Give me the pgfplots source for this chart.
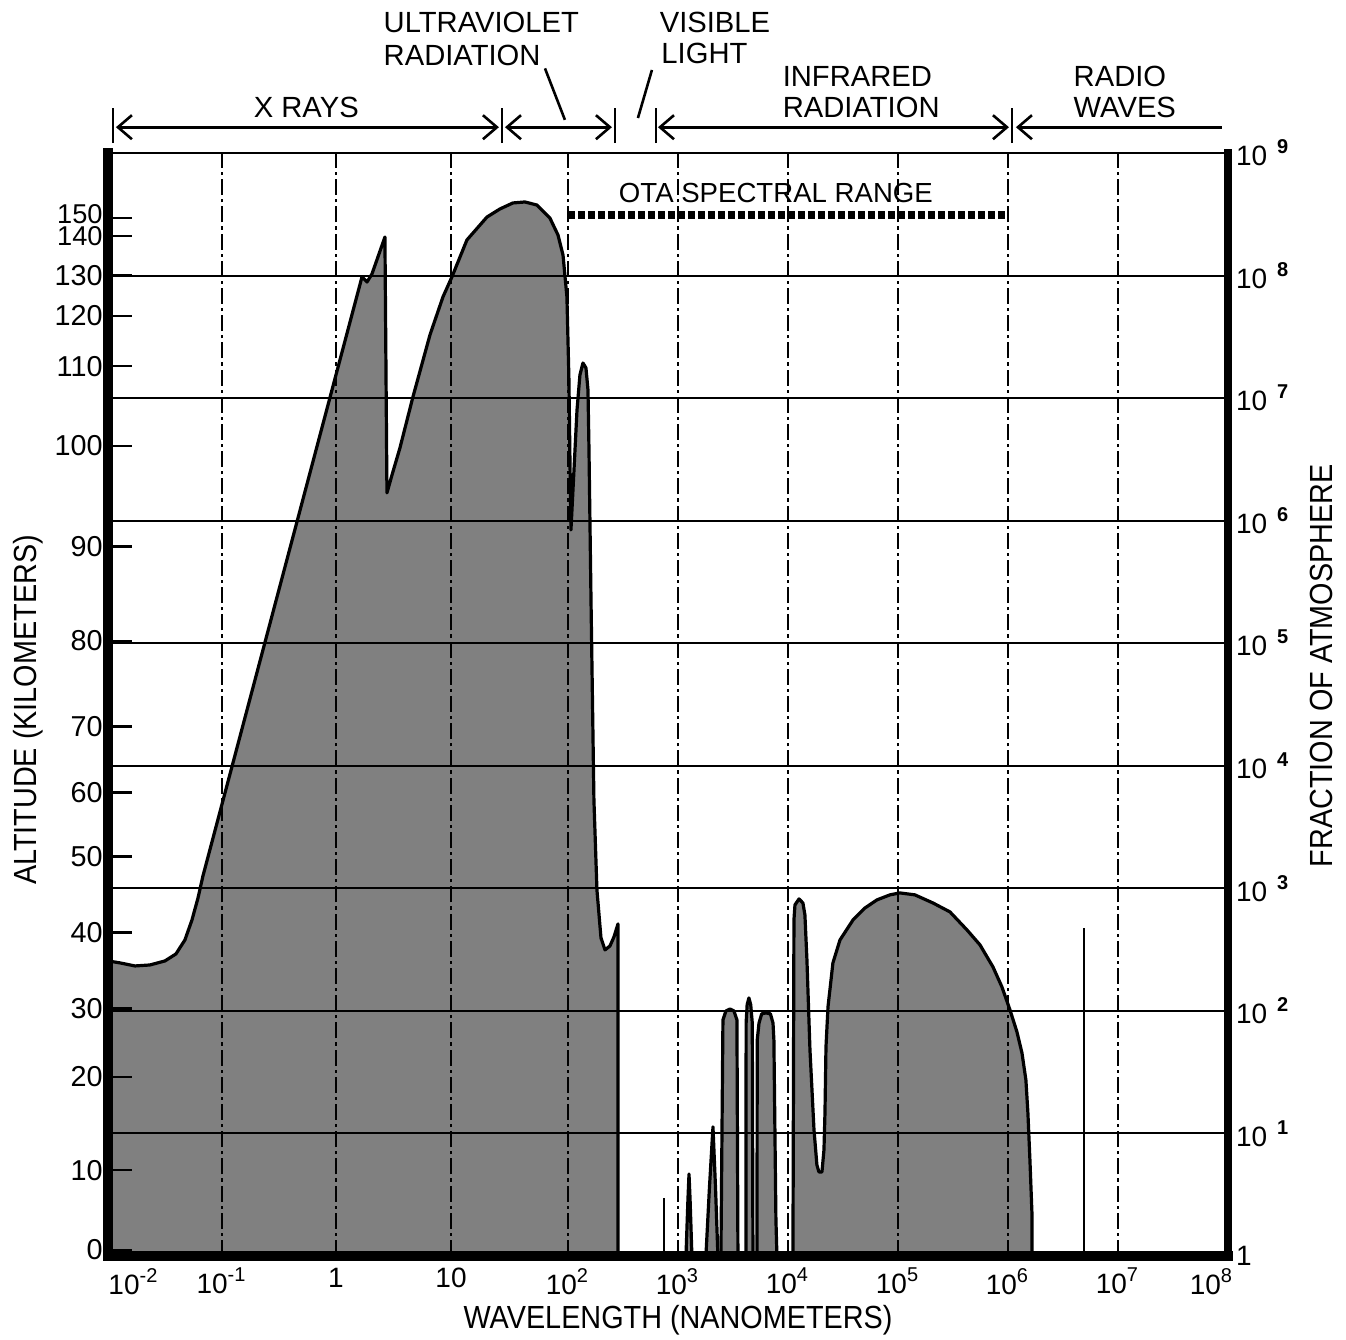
\documentclass[border=0pt]{standalone}
\usepackage{fontspec}
\setmainfont{Liberation Sans}
\newfontfamily\narrowfont{Liberation Sans}[FakeStretch=0.9]
\usepackage{pgfplots}
\pgfplotsset{compat=1.18}
\usetikzlibrary{arrows.meta}
\tikzset{toplab/.style={anchor=base west, inner sep=0pt, font=\fontsize{7.3}{8}\selectfont}}
\begin{document}
\begin{tikzpicture}[font=\fontsize{7.5}{9}\selectfont]
\pgfplotsset{
  base/.style={
    scale only axis, width=280pt, height=275.75pt,
    xmin=-2, xmax=8, ymin=0, ymax=9,
    axis line style={draw=none},
    clip=false,
  },
  shade/.style={fill=black!50, draw=black, line width=0.8pt, line join=round},
}
\begin{axis}[base, axis on top,
  xtick={-2,-0.982,0.036,1.063,2.107,3.089,4.071,5.054,6.036,7.018,8},
  xticklabels={{\hspace*{13pt}10\textsuperscript{-2}},{10\textsuperscript{-1}},{1},{10},{10\textsuperscript{2}},{10\textsuperscript{3}},{10\textsuperscript{4}},{10\textsuperscript{5}},{10\textsuperscript{6}},{10\textsuperscript{7}},{10\textsuperscript{8}\hspace*{8pt}}},
  xtick pos=bottom,
  x tick style={draw=none},
  xmajorgrids,
  x grid style={black, line width=0.45pt, dash pattern=on 4pt off 1pt on 0.8pt off 1pt},
  ytick={0.05,0.70,1.46,2.02,2.64,3.26,3.78,4.32,5.02,5.79,6.61,7.26,7.67,8.00,8.32,8.47},
  yticklabels={0,10,20,30,40,50,60,70,80,90,100,110,120,130,{\raisebox{-1.6pt}{\fontsize{6.8}{8}\selectfont 140}},{\raisebox{1.9pt}{\fontsize{6.8}{8}\selectfont 150}}},
  ytick pos=left,
  tick align=inside,
  major tick length=6pt,
  y tick style={black, line width=0.6pt},
  xticklabel style={font=\fontsize{7}{8}\selectfont, yshift=0.5pt},
  yticklabel style={font=\fontsize{7.2}{9}\selectfont, xshift=2.2pt, inner ysep=0pt},
  xlabel={WAVELENGTH (NANOMETERS)},
  ylabel={ALTITUDE (KILOMETERS)},
  xlabel style={font=\narrowfont\fontsize{8}{9}\selectfont, at={(rel axis cs:0.509,-0.058)}, anchor=center},
  ylabel style={font=\narrowfont\fontsize{8}{9}\selectfont, at={(rel axis cs:-0.0714,0.495)}, anchor=center},
]
% main absorption region (X rays / UV)
\addplot[shade] coordinates {
(-2,0) (-2,2.407) (-1.893,2.391) (-1.759,2.366) (-1.625,2.374) (-1.491,2.407) (-1.393,2.464) (-1.313,2.578) (-1.250,2.741) (-1.196,2.921) (-1.152,3.100) (0.268,7.988) (0.313,7.947) (0.357,8.012) (0.473,8.314) (0.491,6.226) (0.536,6.372) (0.607,6.593) (0.723,7.009) (0.875,7.515) (0.991,7.825) (1.071,7.988) (1.205,8.290) (1.384,8.477) (1.500,8.543) (1.616,8.592) (1.723,8.600) (1.830,8.575) (1.946,8.469) (2.018,8.331) (2.063,8.167) (2.098,7.825) (2.116,7.147) (2.125,6.495) (2.134,5.924) (2.161,6.413) (2.188,6.903) (2.214,7.188) (2.241,7.286) (2.268,7.246) (2.286,7.066) (2.295,6.576) (2.313,5.352) (2.339,3.721) (2.366,2.986) (2.402,2.595) (2.438,2.497) (2.482,2.529) (2.518,2.603) (2.554,2.709) (2.554,0)
} \closedcycle;
% thin lines
\addplot[black, line width=0.5pt] coordinates {(2.964,0) (2.964,0.473)};
\addplot[black, line width=0.5pt] coordinates {(6.714,0) (6.714,2.676)};
% infrared bands
\addplot[shade] coordinates {(3.161,0) (3.178,0.45) (3.188,0.669) (3.198,0.45) (3.214,0)} \closedcycle;
\addplot[shade] coordinates {(3.339,0) (3.370,0.55) (3.402,1.053) (3.425,0.55) (3.446,0)} \closedcycle;
\addplot[shade] coordinates {(3.473,0) (3.491,1.926) (3.518,1.999) (3.554,2.015) (3.589,1.999) (3.616,1.926) (3.625,0)} \closedcycle;
\addplot[shade] coordinates {(3.696,0) (3.698,1.90) (3.707,2.05) (3.723,2.105) (3.739,2.05) (3.753,1.90) (3.759,0)} \closedcycle;
\addplot[shade] coordinates {(3.795,0) (3.797,1.76) (3.813,1.90) (3.837,1.975) (3.875,1.983) (3.915,1.975) (3.938,1.90) (3.946,1.76) (3.964,0.3) (3.973,0)} \closedcycle;
\addplot[shade] coordinates {
(4.116,0) (4.125,2.741) (4.134,2.864) (4.170,2.913) (4.205,2.880) (4.223,2.782) (4.241,2.415) (4.268,1.681) (4.304,1.028) (4.330,0.742) (4.348,0.685) (4.375,0.685) (4.393,0.865) (4.402,1.167) (4.411,1.705) (4.429,2.032) (4.473,2.391) (4.536,2.578) (4.652,2.741) (4.759,2.839) (4.866,2.905) (4.982,2.946) (5.071,2.962) (5.205,2.946) (5.366,2.880) (5.518,2.807) (5.670,2.660) (5.786,2.538) (5.902,2.358) (5.982,2.195) (6.054,2.007) (6.116,1.828) (6.161,1.656) (6.196,1.436) (6.214,1.167) (6.232,0.783) (6.250,0.351) (6.250,0)
} \closedcycle;
% OTA spectral range
\addplot[black, line width=2pt, dash pattern=on 1.8pt off 0.7pt] coordinates {(2.107,8.49) (6.036,8.49)};
\node[anchor=base, inner sep=0pt, font=\fontsize{6.9}{8}\selectfont] at (axis cs:3.964,8.592) {OTA SPECTRAL RANGE};
% spectral band annotations
\node[toplab] at (axis cs:-0.705,9.293) {X RAYS};
\node[toplab] at (axis cs:0.455,9.979) {ULTRAVIOLET};
\node[toplab] at (axis cs:0.455,9.710) {RADIATION};
\node[toplab] at (axis cs:2.920,9.979) {VISIBLE};
\node[toplab] at (axis cs:2.935,9.726) {LIGHT};
\node[toplab] at (axis cs:4.018,9.546) {INFRARED};
\node[toplab] at (axis cs:4.018,9.293) {RADIATION};
\node[toplab] at (axis cs:6.616,9.546) {RADIO};
\node[toplab] at (axis cs:6.616,9.293) {WAVES};
\draw[line width=0.65pt] (axis cs:-1.955,9.08) -- (axis cs:-1.955,9.37);
\draw[line width=0.65pt] (axis cs:1.518,9.08) -- (axis cs:1.518,9.37);
\draw[line width=0.65pt] (axis cs:2.527,9.08) -- (axis cs:2.527,9.37);
\draw[line width=0.65pt] (axis cs:2.893,9.08) -- (axis cs:2.893,9.37);
\draw[line width=0.65pt] (axis cs:6.071,9.08) -- (axis cs:6.071,9.37);
\draw[line width=0.65pt, {Straight Barb[length=3.5pt,width=6pt]}-{Straight Barb[length=3.5pt,width=6pt]}] (axis cs:-1.929,9.21) -- (axis cs:1.491,9.21);
\draw[line width=0.65pt, {Straight Barb[length=3.5pt,width=6pt]}-{Straight Barb[length=3.5pt,width=6pt]}] (axis cs:1.545,9.21) -- (axis cs:2.500,9.21);
\draw[line width=0.65pt, {Straight Barb[length=3.5pt,width=6pt]}-{Straight Barb[length=3.5pt,width=6pt]}] (axis cs:2.911,9.21) -- (axis cs:6.045,9.21);
\draw[line width=0.65pt, {Straight Barb[length=3.5pt,width=6pt]}-] (axis cs:6.107,9.21) -- (axis cs:7.946,9.21);
\draw[line width=0.65pt] (axis cs:1.902,9.69) -- (axis cs:2.080,9.27);
\draw[line width=0.65pt] (axis cs:2.857,9.677) -- (axis cs:2.732,9.285);
\coordinate (BL) at (axis cs:-2.964,-0.685);
\coordinate (TR) at (axis cs:9.054,10.248);
\end{axis}
\begin{axis}[base,
  xtick=\empty,
  ytick={0,...,9},
  yticklabels={1,{10\hspace{2.5pt}\textsuperscript{\bfseries 1}},{10\hspace{2.5pt}\textsuperscript{\bfseries 2}},{10\hspace{2.5pt}\textsuperscript{\bfseries 3}},{10\hspace{2.5pt}\textsuperscript{\bfseries 4}},{10\hspace{2.5pt}\textsuperscript{\bfseries 5}},{10\hspace{2.5pt}\textsuperscript{\bfseries 6}},{10\hspace{2.5pt}\textsuperscript{\bfseries 7}},{10\hspace{2.5pt}\textsuperscript{\bfseries 8}},{10\hspace{2.5pt}\textsuperscript{\bfseries 9}}},
  ytick pos=right,
  yticklabel pos=right,
  major tick length=0pt,
  ymajorgrids,
  y grid style={black, line width=0.5pt},
  yticklabel style={font=\fontsize{7}{8}\selectfont, anchor=west, xshift=-1.5pt},
  ylabel={FRACTION OF ATMOSPHERE},
  ylabel style={font=\narrowfont\fontsize{8}{9}\selectfont, at={(rel axis cs:1.0839,0.535)}, anchor=center},
]
\draw[line width=0.7pt] (rel axis cs:0,1) -- (rel axis cs:1,1);
\draw[line width=2pt, line cap=rect] (rel axis cs:1,0) -- (rel axis cs:1,1);
\draw[line width=2.6pt, line cap=rect] (rel axis cs:0,0) -- (rel axis cs:0,1);
\draw[line width=2.6pt, line cap=rect] (rel axis cs:0,0) -- (rel axis cs:1,0);
\end{axis}
\pgfresetboundingbox
\useasboundingbox (BL) rectangle (TR);
\end{tikzpicture}
\end{document}
